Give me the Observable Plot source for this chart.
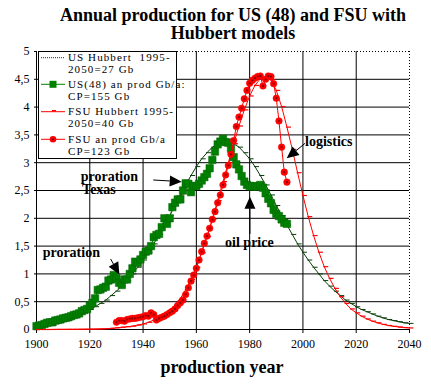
<!DOCTYPE html>
<html><head><meta charset="utf-8">
<script src="https://cdn.jsdelivr.net/npm/d3@7"></script>
<script src="https://cdn.jsdelivr.net/npm/@observablehq/plot@0.6"></script>
<style>
html,body{margin:0;padding:0;background:#fff;}
#chart{width:431px;height:388px;}
</style></head><body><div id="chart"></div>
<script>
// ---------- data ----------
const usProdStart = 1900;
const usProd = [0.06,0.07,0.08,0.10,0.12,0.13,0.13,0.16,0.17,0.18,
  0.20,0.21,0.22,0.24,0.26,0.27,0.29,0.33,0.35,0.37,
  0.43,0.48,0.56,0.71,0.72,0.75,0.77,0.88,0.90,0.98,
  0.92,0.84,0.80,0.90,0.90,1.00,1.10,1.22,1.20,1.26,
  1.34,1.40,1.42,1.50,1.66,1.70,1.72,1.84,2.00,1.90,
  2.00,2.20,2.28,2.34,2.34,2.50,2.63,2.62,2.47,2.58,
  2.58,2.62,2.68,2.74,2.80,2.90,3.05,3.20,3.33,3.38,
  3.43,3.37,3.36,3.25,3.10,2.97,2.88,2.76,2.66,2.60,
  2.58,2.57,2.58,2.57,2.60,2.55,2.45,2.35,2.27,2.15,
  2.08,2.04,1.98,1.92,1.90];
const fsuProdStart = 1930;
const fsuProd = [0.13,0.16,0.16,0.15,0.18,0.19,0.20,0.20,0.21,0.22,
  0.23,0.25,0.24,0.30,0.27,0.17,0.20,0.22,0.24,0.27,
  0.30,0.33,0.37,0.43,0.48,0.53,0.63,0.75,0.87,0.98,
  1.10,1.25,1.40,1.55,1.68,1.82,1.98,2.12,2.28,2.42,
  2.60,2.78,2.95,3.15,3.40,3.65,3.82,3.98,4.15,4.30,
  4.43,4.48,4.52,4.55,4.56,4.38,4.50,4.56,4.55,4.42,
  4.16,3.75,3.28,2.83,2.65];
const hubbertStart = 1900, hubbertStep = 2;
const usHubbert = [0.09,0.11,0.12,0.14,0.16,0.18,0.21,0.24,0.28,0.32,
  0.36,0.41,0.47,0.53,0.61,0.69,0.78,0.88,1.00,1.12,
  1.25,1.39,1.54,1.71,1.88,2.05,2.23,2.42,2.60,2.77,
  2.93,3.07,3.18,3.28,3.34,3.38,3.38,3.34,3.28,3.18,
  3.07,2.93,2.77,2.60,2.42,2.23,2.05,1.88,1.71,1.54,
  1.39,1.25,1.12,1.00,0.88,0.78,0.69,0.61,0.53,0.47,
  0.41,0.36,0.32,0.28,0.24,0.21,0.18,0.16,0.14,0.12,0.11];
const fsuHubbert = [0.00,0.00,0.00,0.001,0.002,0.002,0.003,0.003,0.004,0.005,
  0.007,0.008,0.011,0.014,0.02,0.03,0.04,0.05,0.06,0.08,
  0.10,0.13,0.17,0.22,0.28,0.35,0.44,0.56,0.71,0.90,
  1.12,1.38,1.67,1.98,2.32,2.66,3.00,3.34,3.66,3.95,
  4.20,4.39,4.51,4.55,4.49,4.30,4.01,3.64,3.24,2.82,
  2.41,2.03,1.69,1.39,1.13,0.92,0.74,0.59,0.47,0.37,
  0.30,0.24,0.19,0.15,0.12,0.092,0.072,0.057,0.045,0.035,0.028];
const xTicks = [1900,1920,1940,1960,1980,2000,2020,2040];
const yTicks = [0,0.5,1,1.5,2,2.5,3,3.5,4,4.5,5];
const titleLines = ["Annual production for US (48) and FSU with","Hubbert models"];
const xLabel = "production year";
const legendItems = [
  ["US Hubbert  1995-","2050=27 Gb"],
  ["US(48) an prod Gb/a:","CP=155 Gb"],
  ["FSU Hubbert 1995-","2050=40 Gb"],
  ["FSU an prod Gb/a","CP=123 Gb"]
];
const noteTexts = ["proration","proration","Texas","oil price","logistics"];
const noteX = [1902.5,1916.8,1917.3,1980.1,2001.0];
const noteY = [1.29,2.67,2.42,1.48,3.29];
const noteAnchor = ["start","start","start","middle","start"];
const arrowFrom = [[1928.0,1.26],[1944.0,2.68],[1980.3,1.71],[2001.0,3.34]];
const arrowTo = [[1931.3,0.98],[1954.7,2.65],[1980.3,2.38],[1994.1,3.07]];

// ---------- tables ----------
const usProdData = usProd.map((v,i)=>({year: usProdStart+i, v}));
const fsuProdData = fsuProd.map((v,i)=>({year: fsuProdStart+i, v}));
const usHubData = usHubbert.map((v,i)=>({year: hubbertStart+i*hubbertStep, v}));
const fsuHubData = fsuHubbert.map((v,i)=>({year: hubbertStart+i*hubbertStep, v}));

const dash = {draw(ctx, size){ const r = Math.sqrt(size/Math.PI); ctx.moveTo(-0.4*r,0); ctx.lineTo(1.6*r,0); }};
const US_DARK = "#0b3d0b", GREEN = "#008000", RED = "#ff0000";
const serif = "'Liberation Serif','Times New Roman',serif";

const plot = Plot.plot({
  width: 431, height: 388,
  marginLeft: 36, marginRight: 22, marginTop: 51, marginBottom: 59,
  style: {fontFamily: serif, fontSize: "12px", background: "white", color: "black", overflow: "visible"},
  x: {domain: [1900, 2040], ticks: xTicks, tickFormat: d => String(d), tickSize: 4, tickPadding: 6, label: null},
  y: {domain: [0, 5], ticks: yTicks, tickFormat: d => String(d).replace(".", ","), tickSize: 2, tickPadding: 5, label: null},
  marks: [
    Plot.ruleX(xTicks.filter(d => d > 1900 && d < 2040), {stroke: "black"}),
    Plot.ruleY(yTicks.filter(d => d > 0 && d < 5), {stroke: "black"}),
    Plot.ruleY([5], {stroke: "black", strokeDasharray: "1,2"}),
    Plot.ruleX([2040], {stroke: "black", strokeDasharray: "1,2"}),
    Plot.ruleX([1900], {stroke: "black"}),
    Plot.ruleY([0], {stroke: "black"}),
    // US Hubbert
    Plot.line(usHubData, {x: "year", y: "v", stroke: US_DARK, strokeWidth: 1}),
    Plot.dot(usHubData, {x: "year", y: "v", symbol: dash, r: 2.5, fill: "none", stroke: US_DARK, strokeWidth: 1}),
    // US production
    Plot.line(usProdData, {x: "year", y: "v", stroke: GREEN, strokeWidth: 1}),
    Plot.dot(usProdData, {x: "year", y: "v", symbol: "square", r: 4.2, fill: GREEN, stroke: "#006400", strokeWidth: 0.5}),
    // FSU Hubbert
    Plot.line(fsuHubData, {x: "year", y: "v", stroke: RED, strokeWidth: 1}),
    Plot.dot(fsuHubData, {x: "year", y: "v", symbol: dash, r: 2.5, fill: "none", stroke: RED, strokeWidth: 1.2}),
    // FSU production
    Plot.line(fsuProdData, {x: "year", y: "v", stroke: RED, strokeWidth: 1}),
    Plot.dot(fsuProdData, {x: "year", y: "v", r: 3.3, fill: RED, stroke: RED, strokeWidth: 0.5}),
    Plot.dot(fsuProdData, {x: "year", y: "v", r: 1.1, fill: "#8b0000", stroke: "none"})
  ]
});
document.getElementById("chart").appendChild(plot);

const svg = d3.select(plot);
const sx = plot.scale("x"), sy = plot.scale("y");
const X = v => sx.apply(v), Y = v => sy.apply(v);

// title
const title = svg.append("text").attr("text-anchor", "middle")
  .attr("font-family", serif).attr("font-weight", "bold").attr("font-size", 18).attr("fill", "black");
titleLines.forEach((t, i) => title.append("tspan").attr("x", 233).attr("y", 20.7 + i * 18).text(t));

// x label
svg.append("text").attr("x", 222).attr("y", 373).attr("text-anchor", "middle")
  .attr("font-family", serif).attr("font-weight", "bold").attr("font-size", 18).attr("fill", "black").text(xLabel);

// annotations
noteTexts.forEach((t, i) => {
  svg.append("text").attr("x", X(noteX[i])).attr("y", Y(noteY[i])).attr("text-anchor", noteAnchor[i])
    .attr("font-family", serif).attr("font-weight", "bold").attr("font-size", 14).attr("fill", "black").text(t);
});
arrowFrom.forEach((f, i) => {
  const x0 = X(f[0]), y0 = Y(f[1]), x1 = X(arrowTo[i][0]), y1 = Y(arrowTo[i][1]);
  const dx = x1 - x0, dy = y1 - y0, len = Math.hypot(dx, dy), ux = dx / len, uy = dy / len;
  const bx = x1 - ux * 12, by = y1 - uy * 12, nx = -uy, ny = ux;
  svg.append("line").attr("x1", x0).attr("y1", y0).attr("x2", bx).attr("y2", by).attr("stroke", "black").attr("stroke-width", 1);
  svg.append("polygon").attr("points", `${x1},${y1} ${bx + nx * 5.5},${by + ny * 5.5} ${bx - nx * 5.5},${by - ny * 5.5}`).attr("fill", "black");
});

// legend
const lg = svg.append("g").attr("font-family", serif).attr("font-size", 11).attr("text-anchor", "start");
lg.append("rect").attr("x", 38.5).attr("y", 51.5).attr("width", 138).attr("height", 107).attr("fill", "white").attr("stroke", "black");
const legendY = [57.7, 84.3, 111.7, 139.3];
legendItems.forEach((lines, i) => {
  const y = legendY[i];
  const col = i < 2 ? (i === 0 ? US_DARK : GREEN) : RED;
  const ln = lg.append("line").attr("x1", 41).attr("x2", 65).attr("y1", y).attr("y2", y).attr("stroke", col);
  if (i === 0) ln.attr("stroke-dasharray", "1,1");
  if (i === 1) lg.append("rect").attr("x", 49.5).attr("y", y - 3.5).attr("width", 7).attr("height", 7).attr("fill", GREEN);
  if (i === 2) lg.append("line").attr("x1", 52).attr("x2", 56).attr("y1", y - 1).attr("y2", y - 1).attr("stroke", RED).attr("stroke-width", 1.5);
  if (i === 3) {
    lg.append("circle").attr("cx", 53).attr("cy", y).attr("r", 3.3).attr("fill", RED);
    lg.append("circle").attr("cx", 53).attr("cy", y).attr("r", 1.1).attr("fill", "#8b0000");
  }
  lines.forEach((t, j) => lg.append("text").attr("x", 68).attr("y", y + 3.2 + j * 12.3)
    .attr("text-anchor", "start").attr("letter-spacing", "1.1px").attr("fill", "black").text(t));
});
</script></body></html>
